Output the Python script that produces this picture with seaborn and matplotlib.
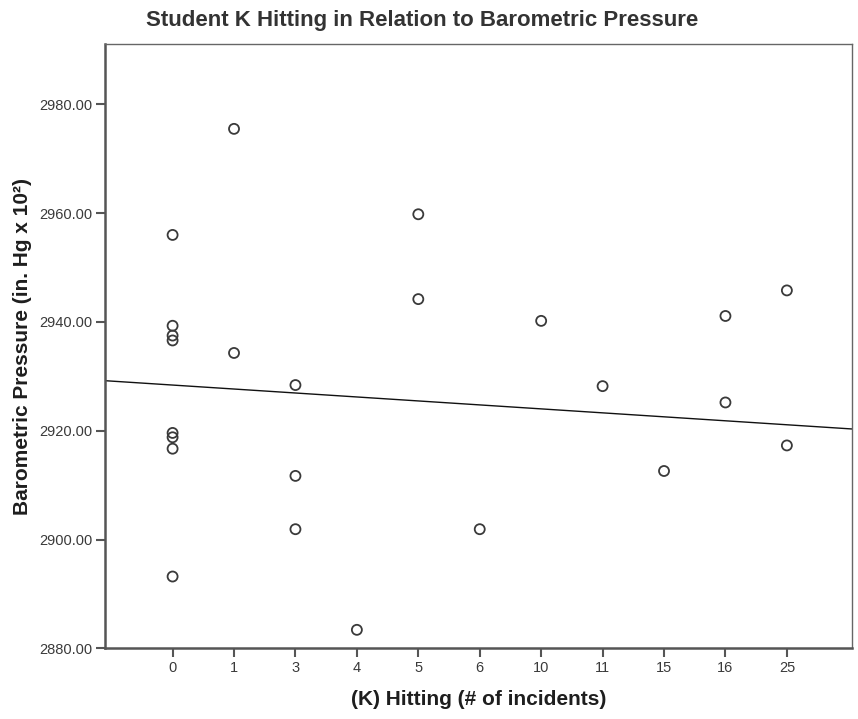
import matplotlib
matplotlib.use("Agg")
import matplotlib.pyplot as plt
import seaborn as sns
import pandas as pd

# Hitting-incident categories shown along the x axis (ordinal, evenly spaced)
categories = ["0", "1", "3", "4", "5", "6", "10", "11", "15", "16", "25"]

# One observation per day: hitting count and barometric pressure (in. Hg x 10^2)
hitting = [0, 0, 0, 0, 0, 0, 0, 0,
           1, 1,
           3, 3, 3,
           4,
           5, 5,
           6,
           10,
           11,
           15,
           16, 16,
           25, 25]
pressure = [2956.0, 2939.3, 2937.5, 2936.6, 2919.6, 2918.8, 2916.7, 2893.2,
            2975.5, 2934.3,
            2928.4, 2911.7, 2901.9,
            2883.4,
            2959.8, 2944.2,
            2901.9,
            2940.2,
            2928.2,
            2912.6,
            2941.1, 2925.2,
            2945.8, 2917.3]

# Fit line for the total sample (pressure per category step)
fit_intercept = 2928.4
fit_slope = -0.73

y_ticks = [2880, 2900, 2920, 2940, 2960, 2980]

df = pd.DataFrame({"hitting": hitting, "pressure": pressure})
df["pos"] = df["hitting"].astype(str).map({c: i for i, c in enumerate(categories)})

sns.set_theme(style="ticks")
plt.rcParams["font.family"] = ["Liberation Sans", "DejaVu Sans"]

fig = plt.figure(figsize=(8.58, 7.19), dpi=100)
ax = fig.add_axes([0.1224, 0.0983, 0.8706, 0.8405])

ax.set_xlim(-1.1, 11.06)
ax.set_ylim(2880, 2991.1)

sns.scatterplot(data=df, x="pos", y="pressure", ax=ax,
                marker="o", s=52, facecolor="none",
                edgecolor="#3a3a3a", linewidth=1.3, zorder=3)

ax.axline((0, fit_intercept), slope=fit_slope, color="#111111", linewidth=1.0, zorder=2)

ax.set_xticks(range(len(categories)))
ax.set_xticklabels(categories)
ax.set_yticks(y_ticks)
ax.set_yticklabels([f"{v:.2f}" for v in y_ticks])

ax.tick_params(axis="both", direction="out", length=6.5, width=1.5,
               color="#555555", labelsize=10.5, labelcolor="#3a3a3a", pad=2.5)

for side in ("left", "bottom"):
    ax.spines[side].set_color("#555555")
    ax.spines[side].set_linewidth(1.8)
for side in ("top", "right"):
    ax.spines[side].set_visible(True)
    ax.spines[side].set_color("#666666")
    ax.spines[side].set_linewidth(1.0)

ax.set_xlabel("(K) Hitting (# of incidents)", fontsize=15, fontweight="bold",
              color="#1e1e1e", labelpad=11)
ax.set_ylabel("Barometric Pressure (in. Hg x 10²)", fontsize=15, fontweight="bold",
              color="#1e1e1e", labelpad=5)

fig.text(0.492, 0.972, "Student K Hitting in Relation to Barometric Pressure",
         ha="center", va="center", fontsize=16, fontweight="bold", color="#333333")

fig.savefig("out.png", dpi=100, facecolor="white")
